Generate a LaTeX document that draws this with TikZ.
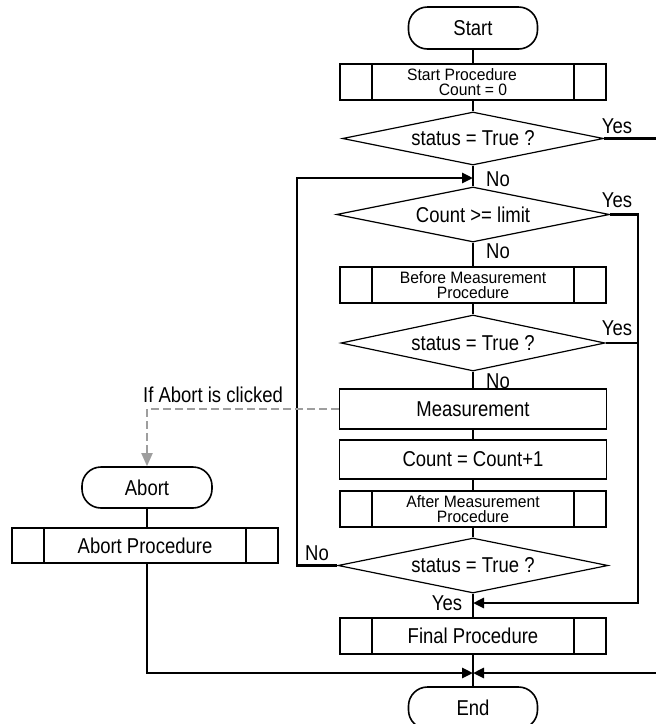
\documentclass[tikz,border=0pt]{standalone}
\usepackage{fontspec}
\setmainfont{Liberation Sans}[FakeStretch=0.86]
\newfontfamily\smallfam{Liberation Sans}[FakeStretch=0.95]
\usetikzlibrary{shapes.geometric,arrows.meta}
\newcommand{\mainfs}{\fontsize{21.5}{23}\selectfont}
\newcommand{\smallfs}{\smallfam\fontsize{16.5}{15.5}\selectfont}
\tikzset{
  termbox/.style={draw, line width=1.6pt, rounded corners=19pt, minimum width=129pt, minimum height=42pt, inner sep=0pt},
  procbox/.style={draw, line width=1.3pt, minimum width=266pt, minimum height=36pt, inner sep=0pt, align=center,
    path picture={\draw[line width=2.2pt]
      ([xshift=32pt]path picture bounding box.north west) -- ([xshift=32pt]path picture bounding box.south west)
      ([xshift=-32pt]path picture bounding box.north east) -- ([xshift=-32pt]path picture bounding box.south east);}},
  actbox/.style={draw, line width=1.3pt, minimum width=267pt, minimum height=40pt, inner sep=0pt},
  decision/.style={draw, diamond, aspect=5, line width=1.2pt, inner sep=0pt, minimum height=55pt},
  lab/.style={inner sep=0pt},
  thinline/.style={line width=1.6pt},
  heavy/.style={line width=2.8pt},
  arr/.style={-{Triangle[length=11pt,width=10pt]}},
  abortline/.style={draw=black!38, line width=1.8pt, dash pattern=on 8pt off 4pt, -{Triangle[length=13pt,width=11pt]}},
}
\begin{document}
\begin{tikzpicture}[x=1pt,y=-1pt,font=\mainfs]
\useasboundingbox (0,0) rectangle (656,724);
% main column
\node[termbox] (start) at (473,28) {Start};
\node[procbox,font=\smallfs] (sp) at (473,82) {Start Procedure\rule{22pt}{0pt}\\Count = 0};
\node[decision,minimum width=261pt,minimum height=53pt] (d1) at (473,138.5) {status = True ?};
\coordinate (j1) at (473,178);
\node[decision,minimum width=273pt] (d2) at (473,214.5) {Count >= limit};
\node[procbox,font=\smallfs] (bmp) at (473,285) {Before Measurement\\Procedure};
\node[decision,minimum width=264pt,minimum height=56pt] (d3) at (473,343) {status = True ?};
\node[actbox] (meas) at (473,409) {Measurement};
\node[actbox,minimum height=39pt] (cnt) at (473,459.5) {Count = Count+1};
\node[procbox,font=\smallfs] (amp) at (473,509) {After Measurement\\Procedure};
\node[decision,minimum width=270pt] (d4) at (473,565.5) {status = True ?};
\coordinate (j3) at (473,603);
\node[procbox] (fin) at (473,636) {Final Procedure};
\coordinate (j4) at (473,673);
\node[termbox] (end) at (473,708) {End};
% abort branch
\node[termbox,minimum width=130pt,minimum height=41pt] (abort) at (147,487.5) {Abort};
\node[procbox,minimum height=35pt] (ap) at (145,545.5) {Abort Procedure};
% labels
\node[lab] (yes1) at (617,126.5) {Yes};
\node[lab] (no1) at (498,179) {No};
\node[lab] (yes2) at (617,200) {Yes};
\node[lab] (no2) at (498,251.5) {No};
\node[lab] (yes3) at (617,328.5) {Yes};
\node[lab] (no3) at (498,381) {No};
\node[lab] (noL) at (317,553.5) {No};
\node[lab] (yesB) at (447,603.5) {Yes};
\node[lab] (abortlab) at (213,395) {If Abort is clicked};
% helper coordinates
\coordinate (edgeR) at (656,138.5);
\coordinate (edgeR2) at (656,673);
\coordinate (rx) at (638,214.5);
\coordinate (lx) at (297,178);
% thin connectors
\draw[thinline] (start) -- (sp);
\draw[thinline] (sp) -- (d1);
\draw[thinline] (d1) -- (d2);
\draw[thinline] (d2) -- (bmp);
\draw[thinline] (bmp) -- (d3);
\draw[thinline] (d3) -- (meas);
\draw[thinline] (meas) -- (cnt);
\draw[thinline] (cnt) -- (amp);
\draw[thinline] (amp) -- (d4);
\draw[thinline] (d4) -- (fin);
\draw[thinline] (fin) -- (end);
\draw[thinline] (abort) -- (abort.south |- ap.north);
% heavy connectors
\draw[heavy] (d1.east) -- (edgeR);
\draw[heavy,arr] (d4.west) -| (lx) -- (j1);
\draw[heavy,arr] (d2.east) -- (rx) |- (j3);
\draw[heavy] (d3.east) -- (d3.east -| rx);
\draw[heavy,arr] (edgeR2) -- (j4);
\draw[heavy,arr] (abort.south |- ap.south) |- (j4);
% abort dashed
\draw[abortline] (meas.west) -| (abort.north);
\end{tikzpicture}
\end{document}
